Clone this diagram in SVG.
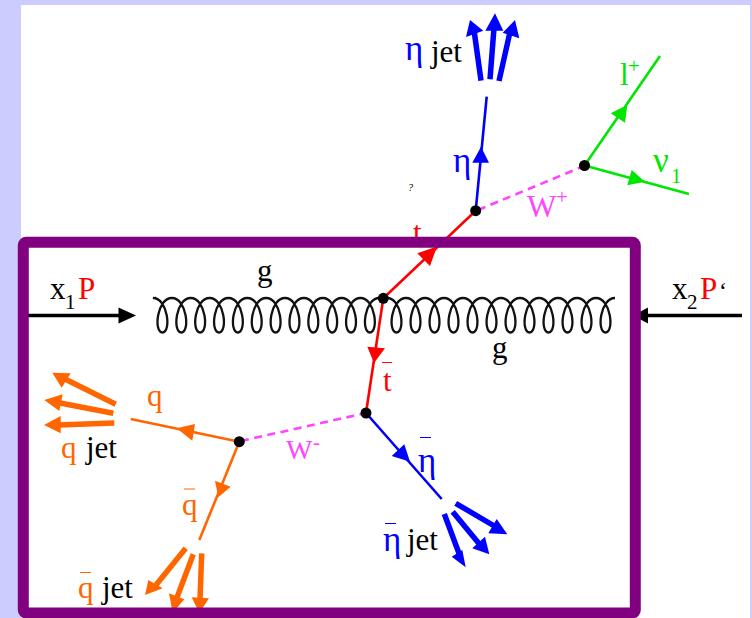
<svg xmlns="http://www.w3.org/2000/svg" width="752" height="618" viewBox="0 0 752 618">
<style>
text{font-family:"Liberation Serif","Times New Roman",serif;font-size:31px;fill:#000}
.sub{font-size:21px}
.eta{font-size:35px}
.red{fill:#ff0000}.blue{fill:#0000ff}.green{fill:#00e600}.org{fill:#ff6600}.pink{fill:#ff44ff}
.l{fill:none;stroke-width:2.6;stroke-linecap:butt}
.j{fill:none;stroke-width:5.500}
.sr{stroke:#ff0000}.sb{stroke:#0000ff}.sg{stroke:#00e600}.so{stroke:#ff6600}
.bar{stroke-width:1;fill:none}
.gluon{fill:none;stroke:#111;stroke-width:2.300}
.dash{fill:none;stroke:#ff44ff;stroke-width:2.600;stroke-dasharray:8 5.500}
.v{fill:#000}
</style>
<rect width="752" height="618" fill="#ccccff"/>
<rect x="21" y="5" width="729" height="613" fill="#ffffff"/>
<g id="connectors">
<path class="gluon" d="M155 297.500Q157 299 153 298c15 0 18.400 34.500 9.430 34.500s-5.600-34.500 9.430-34.500c15 0 18.400 34.500 9.430 34.500s-5.600-34.500 9.430-34.500c15 0 18.400 34.500 9.430 34.500s-5.600-34.500 9.430-34.500c15 0 18.400 34.500 9.430 34.500s-5.600-34.500 9.430-34.500c15 0 18.400 34.500 9.430 34.500s-5.600-34.500 9.430-34.500c15 0 18.400 34.500 9.430 34.500s-5.600-34.500 9.430-34.500c15 0 18.400 34.500 9.430 34.500s-5.600-34.500 9.430-34.500c15 0 18.400 34.500 9.430 34.500s-5.600-34.500 9.430-34.500c15 0 18.400 34.500 9.430 34.500s-5.600-34.500 9.430-34.500c15 0 18.400 34.500 9.430 34.500s-5.600-34.500 9.430-34.500c15 0 18.400 34.500 9.430 34.500s-5.600-34.500 9.430-34.500c15 0 18.400 34.500 9.430 34.500s-5.600-34.500 9.430-34.500"/>
<path class="gluon" d="M383 298h4c15 0 18.500 34.500 9.500 34.500s-5.500-34.500 9.500-34.500c15 0 18.500 34.500 9.500 34.500s-5.500-34.500 9.500-34.500c15 0 18.500 34.500 9.500 34.500s-5.500-34.500 9.500-34.500c15 0 18.500 34.500 9.500 34.500s-5.500-34.500 9.500-34.500c15 0 18.500 34.500 9.500 34.500s-5.500-34.500 9.500-34.500c15 0 18.500 34.500 9.500 34.500s-5.500-34.500 9.500-34.500c15 0 18.500 34.500 9.500 34.500s-5.500-34.500 9.500-34.500c15 0 18.500 34.500 9.500 34.500s-5.500-34.500 9.500-34.500c15 0 18.500 34.500 9.500 34.500s-5.500-34.500 9.500-34.500c15 0 18.500 34.500 9.500 34.500s-5.500-34.500 9.500-34.500c15 0 18.500 34.500 9.500 34.500s-5.500-34.500 9.500-34.500c15 0 18.500 34.500 9.500 34.500s-5.500-34.500 9.500-34.500"/>
<path fill="none" stroke="#000" stroke-width="3.600" d="M28 315.500H122M742 315.500H645"/>
<path class="v" d="M136 315.500L118.500 307.500V323.500ZM633 315.500L648 307.500V323.500Z"/>
<path class="l sr" d="M383.300 298.300L475.700 210.700M383.300 298.300L366 413"/>
<path class="red" d="M437 246.500L417.300 253.300L430 266ZM374 363L367.300 346.700L385 348.300Z"/>
<path class="l sb" d="M475.700 210.700L486.700 96.700M366 413L441.700 499"/>
<path class="blue" d="M481 146.700L472.300 162.700H489ZM410 461.700L391.700 456L404.300 444.300Z"/>
<path class="j sb" d="M481 80.700L474 30M490 79.300L494 28M499 81L510 32M455.700 503.300L496 527M452.700 511.700L481 546M444.300 514L460 556"/>
<path class="blue" d="M470 20L466 37L483.300 30.700ZM495 13.300L485.300 30.700H503.300ZM515 20L502.700 32.700L519.300 38.300ZM507.300 534.300L496.700 519L488.300 533.300ZM489.300 554.300L485 536.700L472.300 548.300ZM465.700 567.300L462.300 550L451.700 556.700Z"/>
<path class="l sg" d="M584.500 165.500L660 56M584.500 165.500L689 194"/>
<path class="green" d="M627.300 105L610.700 113.300L625 122.700ZM645 181.700L631.700 170L627.300 185.300Z"/>
<path class="dash" d="M478 210L584 166M241 441L366 413"/>
<path class="l so" d="M239.300 441.700L130.700 419M239.300 441.700L199.300 540"/>
<path class="org" d="M176.700 428.300L195 424L192.300 440.700ZM218.300 497.300L215 480.700L230.700 486.700Z"/>
<path class="j so" d="M115.700 404.300L65 379M113.300 413.300L60 403M114.300 423L58 425M185.700 548.300L156 585M193.300 554.300L176 600M201.700 553.300L200 600"/>
<path class="org" d="M52.300 372.700L70.700 373.300L61.700 387.700ZM44.300 400L62.700 394.300L59.300 411ZM44 425L60.700 416V433.300ZM145 595L148.300 580L162.700 588.300ZM172.700 613L169 593.300L184.300 599.300ZM199.300 613L191.700 597.300L209 598.300Z"/>
</g>
<text id="label-t" class="red" x="413" y="243">t</text>
<rect id="frame" x="23.300" y="242.200" width="612" height="370.800" rx="3" fill="none" stroke="#800080" stroke-width="11"/>
<g id="vertex-1"><circle class="v" cx="383.300" cy="298.300" r="5.500"/></g>
<g id="vertex-2"><circle class="v" cx="475.700" cy="210.700" r="5.500"/></g>
<g id="vertex-3"><circle class="v" cx="584.500" cy="165.500" r="5.500"/></g>
<g id="vertex-4"><circle class="v" cx="366" cy="413" r="5.500"/></g>
<g id="vertex-5"><circle class="v" cx="239.300" cy="441.700" r="5.500"/></g>
<g id="labels">
<text x="50" y="299">x</text><text class="sub" x="65" y="309">1</text><text class="red" x="78" y="299">P</text>
<text x="672" y="299">x</text><text class="sub" x="687" y="309">2</text><text class="red" x="700" y="299">P</text><text x="719" y="299" style="font-size:24px">‘</text>
<text x="257" y="281">g</text><text x="492" y="358">g</text>
<text class="blue eta" x="405" y="60">η</text><text x="431" y="62">jet</text>
<text class="blue eta" x="453" y="172">η</text>
<text x="408" y="191" style="font-size:10px;font-style:italic">?</text>
<text class="green" x="620" y="85">l</text><text class="green sub" x="628" y="73">+</text>
<text class="green eta" x="653" y="172">ν</text><text class="green sub" x="671" y="183">1</text>
<text class="pink" x="527" y="217">W</text><text class="pink sub" x="556" y="204">+</text>
<text class="pink" x="286" y="459" style="font-size:28px">W</text><text class="pink sub" x="313" y="449">-</text>
<text class="red" x="383" y="391">t</text><path class="bar sr" d="M382 362.500H392"/>
<text class="blue eta" x="418" y="472">η</text><path class="bar sb" d="M420 437.500H431"/>
<text class="blue eta" x="383" y="551">η</text><path class="bar sb" d="M385 523.500H396"/><text x="407" y="550">jet</text>
<text class="org" x="147" y="406">q</text>
<text class="org" x="61" y="458">q</text><text x="86" y="458">jet</text>
<text class="org" x="182" y="515">q</text><path class="bar so" d="M184 489H195"/>
<text class="org" x="78" y="598">q</text><path class="bar so" d="M80 572.500H91"/><text x="102" y="598">jet</text>
</g>
</svg>
